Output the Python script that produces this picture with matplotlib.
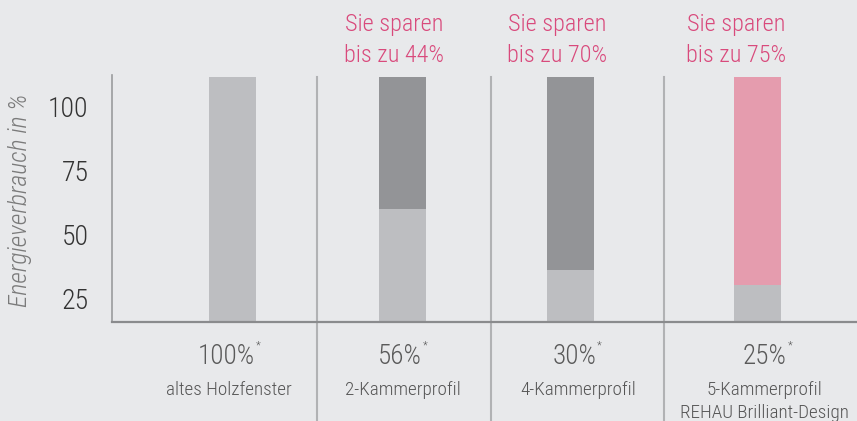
import matplotlib
matplotlib.use('Agg')
import matplotlib.pyplot as plt
from matplotlib.transforms import blended_transform_factory

# ---- data ----
categories = ['altes Holzfenster', '2-Kammerprofil', '4-Kammerprofil',
              '5-Kammerprofil\nREHAU Brilliant-Design']
consumption_labels = ['100%', '56%', '30%', '25%']
savings_labels = ['', 'Sie sparen\nbis zu 44%', 'Sie sparen\nbis zu 70%', 'Sie sparen\nbis zu 75%']
remaining = [111.6, 59.9, 36.0, 30.1]      # light part (top of light segment)
total = [111.6, 111.6, 111.6, 111.6]       # full bar height
yticks = [25, 50, 75, 100]

# ---- layout / style ----
W, H = 857, 421
bg = '#e8e9eb'
light = '#bdbec1'
dark = '#939497'
pink = '#e59cae'
top_colors = [light, dark, dark, pink]
pink_text = '#d94a7c'
FONT = ['Roboto Condensed', 'Liberation Sans Narrow', 'Liberation Sans', 'DejaVu Sans']
plt.rcParams['font.family'] = FONT
plt.rcParams['font.weight'] = 'light'

bar_pos = [120.5, 290.5, 458.5, 645.5]
bar_w = 47
dividers = [204.7, 378.7, 552.3]
pct_x = [114.7, 288.0, 462.7, 653.0]
cat_x = [117.0, 290.5, 466.0, 652.0]
save_x = [0, 282.0, 445.5, 624.0]
ymin, ymax = 15.6, 112.4

fig = plt.figure(figsize=(W / 100, H / 100), dpi=100, facecolor=bg)
ax = fig.add_axes([112 / W, (H - 322) / H, (W - 112) / W, (322 - 75) / H])
ax.set_facecolor(bg)
ax.set_xlim(0, W - 112)
ax.set_ylim(ymin, ymax)

for i in range(len(categories)):
    ax.bar(bar_pos[i], total[i] - ymin, bottom=ymin, width=bar_w, color=top_colors[i], linewidth=0)
    ax.bar(bar_pos[i], remaining[i] - ymin, bottom=ymin, width=bar_w, color=light, linewidth=0)

ax_top_frac = (322 - 77) / (322 - 75)
ax_bot_frac = -(H - 322) / (322 - 75)
for d in dividers:
    ax.axvline(d, ymin=ax_bot_frac, ymax=ax_top_frac, color='#b1b2b4', lw=1.5, clip_on=False, zorder=1)

for s in ['top', 'right']:
    ax.spines[s].set_visible(False)
ax.spines['left'].set_color('#9a9b9d')
ax.spines['left'].set_linewidth(1.2)
ax.spines['bottom'].set_color('#8a8b8d')
ax.spines['bottom'].set_linewidth(1.6)
ax.spines['bottom'].set_zorder(5)

ax.set_xticks([])
ax.set_yticks(yticks)
ax.set_yticklabels([str(t) for t in yticks], fontsize=20, color='#333333', fontweight='light')
ax.tick_params(axis='y', length=0, pad=17)

fig.text(20 / W, 1 - 200 / H, 'Energieverbrauch in %', rotation=90, ha='center', va='center',
         fontsize=18.5, style='italic', color='#7a7a7a', fontweight='light')

tr = blended_transform_factory(ax.transData, fig.transFigure)

pct_texts = []
for i in range(len(categories)):
    t = ax.text(pct_x[i], 1 - 356 / H, consumption_labels[i], transform=tr, ha='center', va='center',
                fontsize=19.5, color='#5a5a5a', fontweight='light')
    pct_texts.append(t)
    for j, line in enumerate(categories[i].split('\n')):
        ax.text(cat_x[i], 1 - (390 + 23 * j) / H, line, transform=tr, ha='center', va='center',
                fontsize=13.8, color='#555555', fontweight='light')
    if savings_labels[i]:
        for j, line in enumerate(savings_labels[i].split('\n')):
            ax.text(save_x[i], 1 - (25 + 30 * j) / H, line, transform=tr, ha='center', va='center',
                    fontsize=17.5, color=pink_text, fontweight='light')

fig.canvas.draw()
renderer = fig.canvas.get_renderer()
for t in pct_texts:
    bb = t.get_window_extent(renderer)
    fig.text((bb.x1 + 0.5) / W, 1 - 346 / H, '*', ha='left', va='center', fontsize=8, color='#5a5a5a')

fig.savefig('out.png', dpi=100, facecolor=bg)
